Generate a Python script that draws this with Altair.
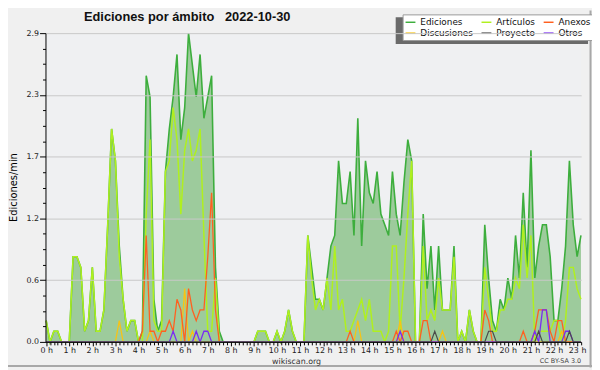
import altair as alt
import pandas as pd

# muestras cada 10 minutos (minutos desde las 0 h)
minutos = list(range(0, 1400, 10))

ediciones = [
    0.2, 0.0, 0.1, 0.1, 0.0, 0.0, 0.0, 0.8, 0.8, 0.7,
    0.1, 0.2, 0.7, 0.1, 0.1, 0.3, 1.1, 2.0, 1.7, 0.9,
    0.4, 0.1, 0.2, 0.2, 0.0, 0.1, 2.5, 2.3, 0.4, 0.1,
    0.2, 1.6, 2.0, 2.3, 2.7, 1.9, 2.2, 2.9, 2.6, 2.3,
    2.7, 2.1, 2.3, 2.5, 0.7, 0.1, 0.0, 0.0, 0.0, 0.0,
    0.0, 0.0, 0.0, 0.0, 0.0, 0.1, 0.1, 0.1, 0.0, 0.0,
    0.1, 0.0, 0.1, 0.3, 0.1, 0.0, 0.0, 0.0, 1.0, 0.7,
    0.4, 0.4, 0.3, 0.6, 0.9, 1.0, 1.7, 1.3, 1.3, 1.6,
    1.0, 2.1, 0.9, 1.7, 1.4, 1.3, 1.6, 1.2, 1.1, 1.0,
    1.6, 1.2, 1.0, 1.5, 1.9, 1.7, 0.0, 0.0, 1.2, 0.5,
    0.9, 0.3, 0.9, 0.3, 0.3, 0.3, 0.9, 0.0, 0.1, 0.0,
    0.3, 0.1, 0.0, 0.0, 1.1, 0.6, 0.2, 0.1, 0.4, 0.3,
    0.6, 0.4, 1.0, 0.6, 1.4, 0.7, 1.8, 0.6, 0.9, 1.1,
    1.1, 0.8, 0.2, 0.2, 0.5, 0.9, 1.7, 1.1, 0.8, 1.0,
]

articulos = [
    0.2, 0.0, 0.1, 0.1, 0.0, 0.0, 0.0, 0.8, 0.8, 0.7,
    0.1, 0.2, 0.7, 0.1, 0.1, 0.3, 1.1, 2.0, 1.7, 0.8,
    0.4, 0.1, 0.2, 0.2, 0.0, 0.0, 1.2, 1.9, 0.2, 0.1,
    0.1, 1.6, 1.7, 2.2, 1.9, 1.2, 1.8, 2.0, 1.7, 1.8,
    2.0, 1.0, 0.1, 0.1, 0.6, 0.0, 0.0, 0.0, 0.0, 0.0,
    0.0, 0.0, 0.0, 0.0, 0.0, 0.1, 0.1, 0.1, 0.0, 0.0,
    0.1, 0.0, 0.1, 0.3, 0.1, 0.0, 0.0, 0.0, 1.0, 0.6,
    0.3, 0.4, 0.3, 0.6, 0.3, 0.9, 0.3, 0.4, 0.1, 0.1,
    0.2, 0.3, 0.4, 0.2, 0.4, 0.1, 0.1, 0.1, 0.0, 0.1,
    0.9, 0.9, 0.1, 0.6, 1.2, 1.7, 0.0, 0.0, 0.9, 0.2,
    0.3, 0.2, 0.6, 0.3, 0.3, 0.3, 0.8, 0.0, 0.1, 0.0,
    0.3, 0.1, 0.0, 0.0, 0.7, 0.4, 0.1, 0.1, 0.3, 0.3,
    0.4, 0.4, 0.6, 0.5, 1.1, 0.6, 1.0, 0.0, 0.1, 0.1,
    0.1, 0.1, 0.2, 0.2, 0.0, 0.2, 0.7, 0.7, 0.5, 0.4,
]

anexos = [
    0.0, 0.0, 0.0, 0.0, 0.0, 0.0, 0.0, 0.0, 0.0, 0.0,
    0.0, 0.0, 0.0, 0.0, 0.0, 0.0, 0.0, 0.0, 0.0, 0.0,
    0.0, 0.0, 0.0, 0.0, 0.0, 0.1, 1.0, 0.1, 0.1, 0.0,
    0.1, 0.1, 0.2, 0.1, 0.4, 0.3, 0.0, 0.5, 0.3, 0.2,
    0.3, 0.3, 0.8, 1.4, 0.3, 0.0, 0.0, 0.0, 0.0, 0.0,
    0.0, 0.0, 0.0, 0.0, 0.0, 0.0, 0.0, 0.0, 0.0, 0.0,
    0.0, 0.0, 0.0, 0.0, 0.0, 0.0, 0.0, 0.0, 0.0, 0.0,
    0.0, 0.0, 0.0, 0.0, 0.0, 0.0, 0.0, 0.0, 0.0, 0.1,
    0.0, 0.0, 0.0, 0.0, 0.0, 0.0, 0.0, 0.0, 0.0, 0.0,
    0.0, 0.1, 0.0, 0.1, 0.1, 0.0, 0.0, 0.0, 0.2, 0.2,
    0.0, 0.0, 0.0, 0.0, 0.0, 0.0, 0.0, 0.0, 0.0, 0.0,
    0.0, 0.0, 0.0, 0.0, 0.3, 0.2, 0.0, 0.0, 0.0, 0.0,
    0.0, 0.0, 0.0, 0.0, 0.1, 0.0, 0.0, 0.1, 0.3, 0.3,
    0.3, 0.1, 0.0, 0.2, 0.2, 0.0, 0.0, 0.0, 0.0, 0.0,
]

discusiones = [
    0.0, 0.0, 0.0, 0.0, 0.0, 0.0, 0.0, 0.0, 0.0, 0.0,
    0.0, 0.0, 0.0, 0.0, 0.0, 0.0, 0.0, 0.0, 0.0, 0.2,
    0.0, 0.0, 0.0, 0.0, 0.0, 0.0, 0.0, 0.1, 0.0, 0.0,
    0.0, 0.0, 0.0, 0.0, 0.0, 0.0, 0.5, 0.0, 0.1, 0.0,
    0.0, 0.0, 0.0, 0.0, 0.0, 0.0, 0.0, 0.0, 0.0, 0.0,
    0.0, 0.0, 0.0, 0.0, 0.0, 0.0, 0.0, 0.0, 0.0, 0.0,
    0.0, 0.0, 0.0, 0.0, 0.0, 0.0, 0.0, 0.0, 0.0, 0.0,
    0.0, 0.0, 0.0, 0.0, 0.0, 0.0, 0.0, 0.0, 0.0, 0.0,
    0.0, 0.2, 0.0, 0.0, 0.0, 0.0, 0.0, 0.0, 0.0, 0.0,
    0.0, 0.0, 0.2, 0.0, 0.0, 0.0, 0.0, 0.0, 0.0, 0.0,
    0.0, 0.0, 0.0, 0.1, 0.0, 0.0, 0.0, 0.0, 0.0, 0.0,
    0.0, 0.0, 0.0, 0.0, 0.0, 0.0, 0.0, 0.0, 0.0, 0.0,
    0.0, 0.0, 0.0, 0.0, 0.0, 0.0, 0.0, 0.0, 0.0, 0.0,
    0.0, 0.0, 0.0, 0.0, 0.1, 0.0, 0.0, 0.0, 0.0, 0.0,
]

proyecto = [
    0.0, 0.0, 0.0, 0.0, 0.0, 0.0, 0.0, 0.0, 0.0, 0.0,
    0.0, 0.0, 0.0, 0.0, 0.0, 0.0, 0.0, 0.0, 0.0, 0.0,
    0.0, 0.0, 0.0, 0.0, 0.0, 0.0, 0.0, 0.0, 0.0, 0.0,
    0.0, 0.0, 0.0, 0.0, 0.0, 0.0, 0.0, 0.0, 0.0, 0.0,
    0.0, 0.0, 0.0, 0.0, 0.0, 0.0, 0.0, 0.0, 0.0, 0.0,
    0.0, 0.0, 0.0, 0.0, 0.0, 0.0, 0.0, 0.0, 0.0, 0.0,
    0.0, 0.0, 0.0, 0.0, 0.0, 0.0, 0.0, 0.0, 0.0, 0.0,
    0.0, 0.0, 0.0, 0.0, 0.0, 0.0, 0.0, 0.0, 0.0, 0.0,
    0.0, 0.0, 0.0, 0.0, 0.0, 0.0, 0.0, 0.0, 0.0, 0.0,
    0.0, 0.0, 0.0, 0.0, 0.0, 0.0, 0.0, 0.0, 0.0, 0.0,
    0.0, 0.1, 0.0, 0.0, 0.0, 0.0, 0.0, 0.0, 0.0, 0.0,
    0.0, 0.0, 0.0, 0.0, 0.0, 0.1, 0.1, 0.0, 0.0, 0.0,
    0.0, 0.0, 0.0, 0.0, 0.0, 0.0, 0.0, 0.0, 0.1, 0.0,
    0.0, 0.0, 0.0, 0.0, 0.0, 0.0, 0.1, 0.0, 0.0, 0.0,
]

otros = [
    0.0, 0.0, 0.0, 0.0, 0.0, 0.0, 0.0, 0.0, 0.0, 0.0,
    0.0, 0.0, 0.0, 0.0, 0.0, 0.0, 0.0, 0.0, 0.0, 0.0,
    0.0, 0.0, 0.0, 0.0, 0.0, 0.0, 0.0, 0.0, 0.0, 0.0,
    0.0, 0.0, 0.0, 0.1, 0.0, 0.0, 0.0, 0.0, 0.0, 0.1,
    0.0, 0.1, 0.1, 0.0, 0.0, 0.0, 0.0, 0.0, 0.0, 0.0,
    0.0, 0.0, 0.0, 0.0, 0.0, 0.0, 0.0, 0.0, 0.0, 0.0,
    0.0, 0.0, 0.0, 0.0, 0.0, 0.0, 0.0, 0.0, 0.0, 0.0,
    0.0, 0.0, 0.0, 0.0, 0.0, 0.0, 0.0, 0.0, 0.0, 0.0,
    0.0, 0.0, 0.0, 0.0, 0.0, 0.0, 0.0, 0.0, 0.0, 0.0,
    0.0, 0.0, 0.1, 0.0, 0.0, 0.0, 0.0, 0.0, 0.0, 0.0,
    0.0, 0.0, 0.0, 0.0, 0.0, 0.0, 0.0, 0.0, 0.0, 0.0,
    0.0, 0.0, 0.0, 0.0, 0.0, 0.0, 0.0, 0.0, 0.0, 0.0,
    0.0, 0.0, 0.0, 0.0, 0.0, 0.0, 0.0, 0.1, 0.0, 0.3,
    0.3, 0.0, 0.0, 0.0, 0.0, 0.1, 0.1, 0.0, 0.0, 0.0,
]

# espacios no separables para conservar el hueco antes de la fecha
titulo = "Ediciones por ámbito\u00a0\u00a0\u00a02022-10-30"
licencia = "CC BY-SA 3.0"

series_nombres = ["Ediciones", "Artículos", "Anexos", "Discusiones", "Proyecto", "Otros"]
series_colores = ["#3DAE3D", "#B0F01E", "#FF6020", "#F7C316", "#4A4A4A", "#7A2CF2"]
series_datos = [ediciones, articulos, anexos, discusiones, proyecto, otros]
series_grosor = [1.6, 1.5, 1.3, 1.3, 1.2, 1.3]
orden_dibujo = ["Ediciones", "Artículos", "Discusiones", "Anexos", "Otros", "Proyecto"]

x_ticks = list(range(0, 1400, 10))
y_ticks = [0, 0.145, 0.29, 0.435, 0.58, 0.725, 0.87, 1.015, 1.16, 1.305, 1.45,
           1.595, 1.74, 1.885, 2.03, 2.175, 2.32, 2.465, 2.61, 2.755, 2.9]

filas = []
for nombre, datos in zip(series_nombres, series_datos):
    for t, v in zip(minutos, datos):
        filas.append({"t": t, "v": v, "serie": nombre})
df = pd.DataFrame(filas)
df_ed = pd.DataFrame({"t": minutos, "v": ediciones})

FONT = "DejaVu Sans"
major_x = "datum.value % 60 == 0"
major_y = "round(datum.value*1000) % 580 == 0"

X = alt.X(
    "t:Q",
    scale=alt.Scale(domain=[-1.8, 1390.5], nice=False, zero=False),
    axis=alt.Axis(
        values=x_ticks,
        labelExpr="datum.value % 60 == 0 ? (datum.value/60) + ' h' : ''",
        tickSize={"condition": {"test": major_x, "value": 4}, "value": 3},
        grid=False,
        domainColor="#000000",
        tickColor="#000000",
        labelFont=FONT, labelFontSize=8, labelColor="#222222",
        labelPadding=1, labelFlush=False, labelOverlap=False,
        title="wikiscan.org", titleFont=FONT, titleFontSize=8,
        titleFontWeight="normal", titleColor="#333333",
        titleX=254, titleY=16, titleBaseline="top",
        zindex=1,
    ),
)
Y = alt.Y(
    "v:Q",
    scale=alt.Scale(domain=[0, 2.9], nice=False),
    axis=alt.Axis(
        values=y_ticks,
        labelExpr=f"{major_y} ? format(datum.value, '.1f') : ''",
        tickSize={"condition": {"test": major_y, "value": 6}, "value": 3},
        gridOpacity={"condition": {"test": major_y, "value": 1}, "value": 0},
        gridColor="#C8C8C8",
        domainColor="#000000",
        tickColor="#000000",
        labelFont=FONT, labelFontSize=8, labelColor="#222222",
        labelPadding=1, labelFlush=False, labelOverlap=False,
        title="Ediciones/min", titleFont=FONT, titleFontSize=10,
        titleFontWeight="normal", titleColor="#000000",
        titleX=-27, titleY=156,
        zindex=1,
    ),
)

color = alt.Color(
    "serie:N",
    scale=alt.Scale(domain=series_nombres, range=series_colores),
    legend=alt.Legend(
        title=None, orient="none", legendX=362, legendY=-19,
        direction="horizontal", columns=3,
        symbolType="stroke", symbolSize=100, symbolStrokeWidth=1.5,
        labelFont=FONT, labelFontSize=9, labelColor="#111111",
        fillColor="#FFFFFF", strokeColor="#999999",
        padding=2, columnPadding=5, rowPadding=0, labelOffset=4,
        labelLimit=0,
    ),
)

area = alt.Chart(df_ed).mark_area(color="#4BA646", opacity=0.5).encode(x=X, y=Y)

sombra = alt.Chart(pd.DataFrame({"a": [0]})).mark_rect(color="#6A6A6A").encode(
    x=alt.value(355), x2=alt.value(550), y=alt.value(-16), y2=alt.value(11)
)

# marco gris del lienzo (bordes derecho e inferior)
marco_d = alt.Chart(pd.DataFrame({"a": [0]})).mark_rule(color="#A8A8A8", strokeWidth=2).encode(
    x=alt.value(552.5), y=alt.value(-23), y2=alt.value(339)
)
marco_i = alt.Chart(pd.DataFrame({"a": [0]})).mark_rule(color="#A8A8A8", strokeWidth=2).encode(
    x=alt.value(-38), x2=alt.value(554), y=alt.value(337.5)
)

lineas = []
for nombre in orden_dibujo:
    idx = series_nombres.index(nombre)
    lineas.append(
        alt.Chart(df)
        .transform_filter(alt.datum.serie == nombre)
        .mark_line(strokeWidth=series_grosor[idx])
        .encode(x=X, y=Y, color=color)
    )

textos = pd.DataFrame({"t": [titulo]})
tit = alt.Chart(textos).mark_text(
    font="Liberation Sans", fontSize=13, fontWeight="bold", align="left",
    baseline="alphabetic", color="#111111"
).encode(text="t:N", x=alt.value(39), y=alt.value(-12.5))

cc = alt.Chart(pd.DataFrame({"t": [licencia]})).mark_text(
    font=FONT, fontSize=6.5, align="right", baseline="middle", color="#444444"
).encode(text="t:N", x=alt.value(543), y=alt.value(332))

chart = alt.layer(area, *lineas, sombra, marco_d, marco_i, tit, cc).properties(
    width=543,
    height=313,
    autosize=alt.AutoSizeParams(type="none"),
    padding={"left": 38, "top": 23, "right": 11, "bottom": 26},
    background="#F0F0F0",
).configure_view(fill="#EFF0F2", stroke=None)

chart.save("out.html", embed_options={"renderer": "svg", "actions": False})
